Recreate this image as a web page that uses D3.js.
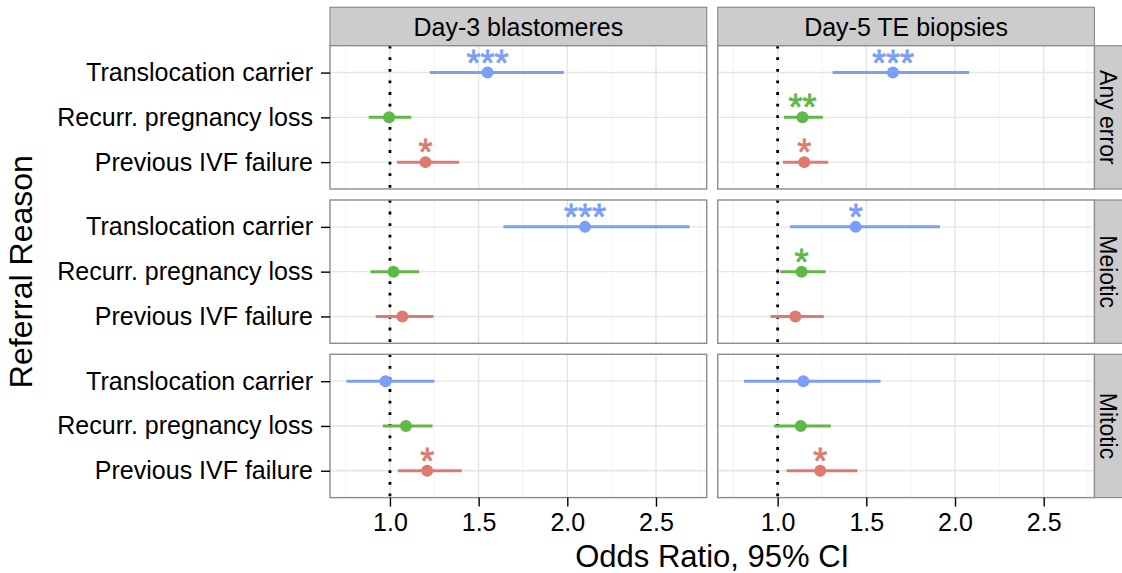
<!DOCTYPE html>
<html lang="en">
<head>
<meta charset="UTF-8">
<title>Odds Ratio by Referral Reason</title>
<script src="https://d3js.org/d3.v7.min.js"></script>
<style>
    body { margin: 0; background: #fff; }
    text { font-family: "Liberation Sans", Arial, sans-serif; fill: #000; }
</style>
</head>
<body>
<div id="chart"></div>
<script>
// facets
const stages = ["Day-3 blastomeres", "Day-5 TE biopsies"];
const errorTypes = ["Any error", "Meiotic", "Mitotic"];
const reasons = ["Translocation carrier", "Recurr. pregnancy loss", "Previous IVF failure"];
const xTicks = [1.0, 1.5, 2.0, 2.5];
const xMinor = [0.75, 1.25, 1.75, 2.25, 2.75];

// [errorType][stage][reason]
const oddsRatio = [
    [[1.55, 0.995, 1.20], [1.65, 1.14, 1.15]],
    [[2.10, 1.02, 1.07], [1.44, 1.135, 1.10]],
    [[0.975, 1.09, 1.21], [1.145, 1.13, 1.24]]
];
const ciLow = [
    [[1.225, 0.88, 1.04], [1.31, 1.035, 1.03]],
    [[1.64, 0.89, 0.92], [1.07, 1.015, 0.96]],
    [[0.755, 0.96, 1.045], [0.81, 0.98, 1.05]]
];
const ciHigh = [
    [[1.98, 1.12, 1.39], [2.08, 1.255, 1.285]],
    [[2.69, 1.165, 1.245], [1.915, 1.27, 1.26]],
    [[1.25, 1.24, 1.405], [1.58, 1.30, 1.45]]
];
const signif = [
    [["***", "", "*"], ["***", "**", "*"]],
    [["***", "", ""], ["*", "*", ""]],
    [["", "", "*"], ["", "", "*"]]
];

const colors = ["#7b9ef8", "#5fb848", "#e07a70"];

const W = 1122, H = 573;
const colX = [330, 717.7], pw = 376.7;
const rowY = [45.7, 200, 354.3], ph = 143.3;
const stripTop = 7.3;

const svg = d3.select("#chart").append("svg")
    .attr("width", W).attr("height", H)
    .style("display", "block");

svg.append("rect").attr("width", W).attr("height", H).attr("fill", "#fff");

const x = d3.scaleLinear().domain([0.662, 2.786]).range([0, pw]);
const y = d3.scalePoint().domain(reasons).range([0, ph]).padding(0.6);

// column strips
stages.forEach((s, j) => {
    const g = svg.append("g").attr("transform", `translate(${colX[j]},${stripTop})`);
    g.append("rect")
        .attr("width", pw).attr("height", rowY[0] - stripTop)
        .attr("fill", "#cccccc").attr("stroke", "#8c8c8c").attr("stroke-width", 1.2);
    g.append("text")
        .attr("x", pw / 2).attr("y", 28.7)
        .attr("text-anchor", "middle")
        .style("font-size", "25px")
        .text(s);
});

// row strips (right edge of the page cuts them, as in the original)
const stripW = W - (colX[1] + pw);
errorTypes.forEach((e, i) => {
    const g = svg.append("g").attr("transform", `translate(${colX[1] + pw},${rowY[i]})`);
    g.append("rect")
        .attr("width", stripW + 2).attr("height", ph)
        .attr("fill", "#cccccc").attr("stroke", "#8c8c8c").attr("stroke-width", 1.2);
    g.append("text")
        .attr("transform", `translate(5.5,${ph / 2}) rotate(90)`)
        .attr("text-anchor", "middle")
        .style("font-size", "23px")
        .text(e);
});

errorTypes.forEach((e, i) => {
    stages.forEach((s, j) => {
        const g = svg.append("g").attr("transform", `translate(${colX[j]},${rowY[i]})`);

        g.append("rect").attr("width", pw).attr("height", ph).attr("fill", "#fff");

        // grid
        g.append("g").selectAll("line").data(xMinor).join("line")
            .attr("x1", d => x(d)).attr("x2", d => x(d))
            .attr("y1", 0).attr("y2", ph)
            .attr("stroke", "#f3f3f3").attr("stroke-width", 1);
        g.append("g").selectAll("line").data(xTicks).join("line")
            .attr("x1", d => x(d)).attr("x2", d => x(d))
            .attr("y1", 0).attr("y2", ph)
            .attr("stroke", "#e5e5e5").attr("stroke-width", 1.4);
        g.append("g").selectAll("line").data(reasons).join("line")
            .attr("x1", 0).attr("x2", pw)
            .attr("y1", d => y(d)).attr("y2", d => y(d))
            .attr("stroke", "#e5e5e5").attr("stroke-width", 1.4);

        // reference line at OR = 1
        g.append("line")
            .attr("x1", x(1)).attr("x2", x(1))
            .attr("y1", 0).attr("y2", ph)
            .attr("stroke", "#000").attr("stroke-width", 2.8)
            .attr("stroke-dasharray", "2.8 8.8");

        const rows = reasons.map((r, k) => ({
            r, k,
            or: oddsRatio[i][j][k], lo: ciLow[i][j][k], hi: ciHigh[i][j][k], sig: signif[i][j][k]
        }));

        g.append("g").selectAll("line").data(rows).join("line")
            .attr("x1", d => x(d.lo)).attr("x2", d => x(d.hi))
            .attr("y1", d => y(d.r)).attr("y2", d => y(d.r))
            .attr("stroke", d => colors[d.k]).attr("stroke-width", 3);

        g.append("g").selectAll("circle").data(rows).join("circle")
            .attr("cx", d => x(d.or)).attr("cy", d => y(d.r)).attr("r", 6)
            .attr("fill", d => colors[d.k]);

        g.append("g").selectAll("text").data(rows).join("text")
            .attr("x", d => x(d.or)).attr("y", d => y(d.r) + 3)
            .attr("text-anchor", "middle")
            .style("font-size", "36px")
            .style("fill", d => colors[d.k])
            .style("stroke", d => colors[d.k])
            .style("stroke-width", 0.8)
            .text(d => d.sig);

        g.append("rect").attr("width", pw).attr("height", ph)
            .attr("fill", "none").attr("stroke", "#8c8c8c").attr("stroke-width", 1.4);

        // y axis on first column
        if (j === 0) {
            const ya = g.append("g")
                .call(d3.axisLeft(y).tickSize(9).tickPadding(8));
            ya.select(".domain").remove();
            ya.selectAll(".tick line").attr("stroke", "#000").attr("stroke-width", 1.4);
            ya.selectAll(".tick text").style("font-size", "25px").attr("fill", "#000")
                .attr("font-family", null);
        }
        // x axis on last row
        if (i === errorTypes.length - 1) {
            const xa = g.append("g").attr("transform", `translate(0,${ph})`)
                .call(d3.axisBottom(x).tickValues(xTicks).tickFormat(d3.format(".1f"))
                    .tickSize(9).tickPadding(7));
            xa.select(".domain").remove();
            xa.selectAll(".tick line").attr("stroke", "#000").attr("stroke-width", 1.4);
            xa.selectAll(".tick text").style("font-size", "25px").attr("fill", "#000")
                .attr("font-family", null);
        }
    });
});

// axis titles
svg.append("text")
    .attr("x", (colX[0] + colX[1] + pw) / 2).attr("y", 567)
    .attr("text-anchor", "middle")
    .style("font-size", "31px")
    .text("Odds Ratio, 95% CI");

svg.append("text")
    .attr("transform", `translate(32,${rowY[0] + (rowY[2] + ph - rowY[0]) / 2}) rotate(-90)`)
    .attr("text-anchor", "middle")
    .style("font-size", "32px")
    .text("Referral Reason");
</script>
</body>
</html>
